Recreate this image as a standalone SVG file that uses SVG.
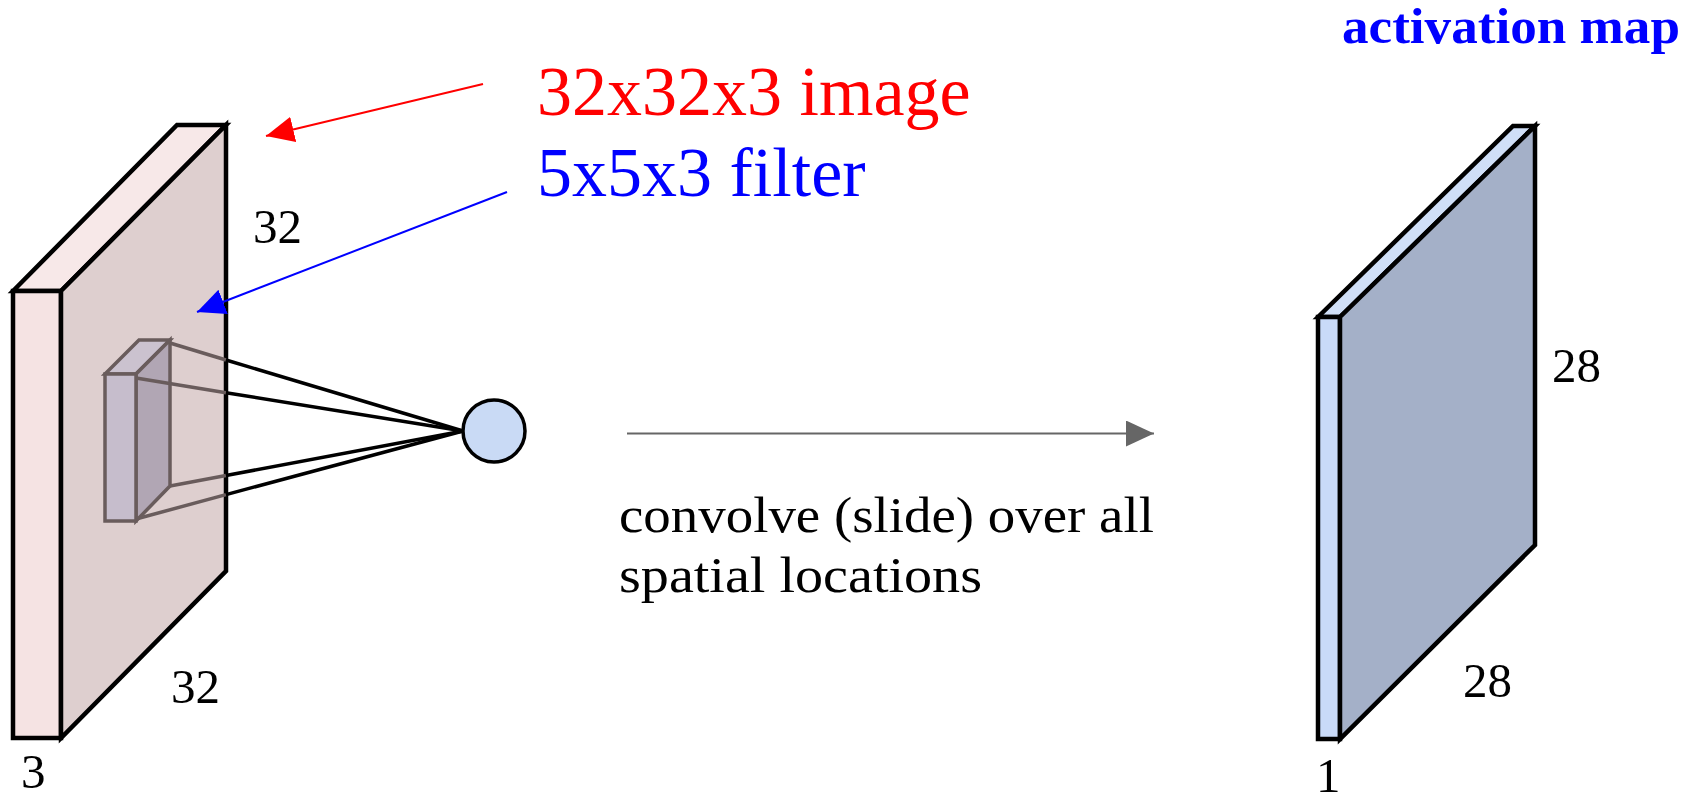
<svg xmlns="http://www.w3.org/2000/svg" width="1702" height="800" viewBox="0 0 1702 800">
  <defs>
    <marker id="arrRed" markerUnits="userSpaceOnUse" markerWidth="30" markerHeight="26" refX="28" refY="13" orient="auto">
      <path d="M0,0 L28,13 L0,26 z" fill="#ff0000"/>
    </marker>
    <marker id="arrBlue" markerUnits="userSpaceOnUse" markerWidth="30" markerHeight="26" refX="28" refY="13" orient="auto">
      <path d="M0,0 L28,13 L0,26 z" fill="#0000ff"/>
    </marker>
    <marker id="arrGray" markerUnits="userSpaceOnUse" markerWidth="30" markerHeight="26" refX="28" refY="13" orient="auto">
      <path d="M0,0 L28,13 L0,26 z" fill="#666666"/>
    </marker>
  </defs>
  <style>
    .slab { stroke: #000; stroke-width: 4.5; stroke-linejoin: miter; }
    .flt { stroke: #695c5c; stroke-width: 3.5; stroke-linejoin: miter; }
    .dim { font-family: "Liberation Serif", "Times New Roman", serif; font-size: 49px; fill: #000; }
    .big { font-family: "Liberation Serif", "Times New Roman", serif; font-size: 70px; }
    .cap { font-family: "Liberation Serif", "Times New Roman", serif; font-size: 50px; fill: #000; }
    .ray { stroke: #000; stroke-width: 3.5; fill: none; }
    .rayIn { stroke: #695c5c; stroke-width: 3.5; fill: none; }
  </style>

  <g id="input-volume">
    <polygon class="slab" points="13,291 177,125 226,125 61,291" fill="#f7e8e8"/>
    <rect class="slab" x="13" y="291" width="48" height="447" fill="#f5e3e3"/>
    <polygon class="slab" points="61,291 226,125 226,571 61,738" fill="#decfcf"/>
  </g>

  <g id="filter">
    <polygon class="flt" points="105,374 139,340 170,340 136,374" fill="#cbc2cf"/>
    <polygon class="flt" points="136,374 170,340 170,486 136,521" fill="#b1a6b4"/>
    <rect class="flt" x="105" y="374" width="31" height="147" fill="#c6bdcc"/>
  </g>

  <g id="connectors">
    <line class="rayIn" x1="170" y1="343" x2="226" y2="360"/>
    <line class="rayIn" x1="136" y1="378" x2="226" y2="392.7"/>
    <line class="rayIn" x1="170" y1="486" x2="226" y2="475.5"/>
    <line class="rayIn" x1="136" y1="519" x2="226" y2="494.6"/>
    <line class="ray" x1="226" y1="360" x2="463" y2="431"/>
    <line class="ray" x1="226" y1="392.7" x2="463" y2="431"/>
    <line class="ray" x1="226" y1="475.5" x2="463" y2="431"/>
    <line class="ray" x1="226" y1="494.6" x2="463" y2="431"/>
    <line x1="483" y1="84" x2="266" y2="136" stroke="#ff0000" stroke-width="2" marker-end="url(#arrRed)"/>
    <line x1="507" y1="192" x2="197" y2="312" stroke="#0000ff" stroke-width="2" marker-end="url(#arrBlue)"/>
    <line x1="627" y1="433.5" x2="1154" y2="433.5" stroke="#666666" stroke-width="2" marker-end="url(#arrGray)"/>
  </g>

  <g id="neuron">
    <circle cx="494" cy="431" r="31" fill="#c9daf5" stroke="#000" stroke-width="3.5"/>
  </g>

  <g id="activation-map">
    <polygon class="slab" points="1318,317 1513,126 1535,126 1340,317" fill="#d0dff7"/>
    <rect class="slab" x="1318" y="317" width="22" height="422" fill="#c9daf8"/>
    <polygon class="slab" points="1340,317 1535,126 1535,545 1340,739" fill="#a4b0c8"/>
  </g>

  <g id="labels">
    <text class="big" x="537" y="115" fill="#ff0000">32x32x3 image</text>
    <text class="big" x="537" y="196" fill="#0000ff">5x5x3 filter</text>
    <text x="1342" y="43" font-family="Liberation Serif, Times New Roman, serif" font-size="50" font-weight="bold" fill="#0000ff" textLength="338" lengthAdjust="spacingAndGlyphs">activation map</text>
    <text class="dim" x="253" y="243">32</text>
    <text class="dim" x="171" y="703">32</text>
    <text class="dim" x="21" y="788">3</text>
    <text class="dim" x="1552" y="382">28</text>
    <text class="dim" x="1463" y="697">28</text>
    <text class="dim" x="1316" y="792">1</text>
    <text class="cap" x="619" y="532" textLength="535" lengthAdjust="spacingAndGlyphs">convolve (slide) over all</text>
    <text class="cap" x="619" y="592" textLength="363" lengthAdjust="spacingAndGlyphs">spatial locations</text>
  </g>
</svg>
